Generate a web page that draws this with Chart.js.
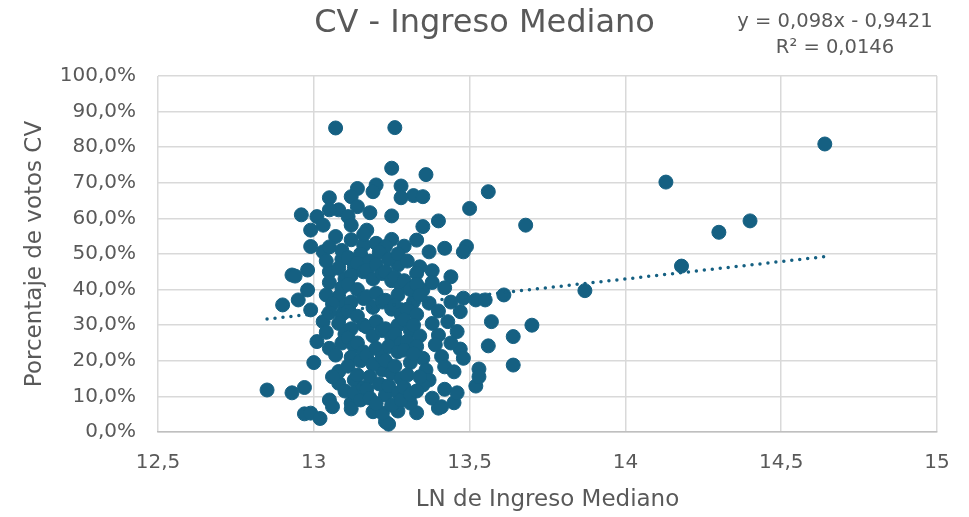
<!DOCTYPE html>
<html lang="es">
<head>
<meta charset="utf-8">
<title>CV - Ingreso Mediano</title>
<script src="https://cdn.jsdelivr.net/npm/chart.js@4.4.1/dist/chart.umd.min.js"></script>
<style>
  html, body { margin: 0; padding: 0; background: #fff; }
  #wrap { width: 969px; height: 517px; }
</style>
</head>
<body>
<div id="wrap"><canvas id="cvChart" width="969" height="517"></canvas></div>
<script>
  // LN del ingreso mediano (eje X) y porcentaje de votos CV (eje Y)
  const lnIngreso = [
    13.07, 13.26, 14.64, 14.13, 14.40, 14.30, 14.18, 13.87, 13.61, 13.70,
    13.64, 13.56, 13.57, 13.64, 13.53, 13.52, 13.53, 13.45, 13.40, 13.33,
    13.27, 13.24, 13.25, 13.36, 13.56, 13.50, 13.68, 13.28, 13.32, 13.35,
    13.28, 13.25, 13.40, 13.35, 13.25, 13.29, 13.33, 13.37, 13.42, 13.49,
    13.48, 13.27, 13.34, 13.38, 13.44, 13.33, 13.35, 13.48, 13.52, 13.55,
    13.32, 13.37, 13.47, 13.38, 13.40, 13.46, 13.47, 13.48, 13.35, 13.41,
    13.42, 13.45, 13.36, 13.37, 13.35, 13.38, 13.41, 13.31, 13.23, 13.20,
    13.19, 13.14, 13.12, 13.05, 13.14, 13.08, 13.05, 13.18, 12.96, 13.01,
    13.11, 13.03, 12.99, 13.12, 13.17, 13.07, 13.16, 13.20, 13.23, 12.99,
    13.03, 12.93, 12.98, 13.05, 12.90, 12.85, 12.93, 12.97, 12.97, 12.99,
    13.02, 13.05, 13.06, 13.00, 13.01, 13.05, 13.07, 13.08, 13.12, 13.13,
    13.22, 13.23, 13.19, 13.22, 12.94, 12.98, 12.95, 12.99, 13.03,
    13.09, 13.08, 13.10, 13.09, 13.08, 13.10, 13.09, 13.08, 13.10, 13.09, 13.08, 13.10, 13.09,
    13.12, 13.11, 13.13, 13.12, 13.11, 13.12, 13.11, 13.12, 13.11, 13.13, 13.12, 13.11, 13.13, 13.12,
    13.15, 13.14, 13.16, 13.14, 13.16, 13.14, 13.16, 13.14, 13.16, 13.15, 13.14, 13.16, 13.15, 13.16,
    13.18, 13.17, 13.19, 13.17, 13.19, 13.17, 13.19, 13.17, 13.19, 13.18, 13.17, 13.18,
    13.21, 13.20, 13.22, 13.20, 13.22, 13.20, 13.22, 13.20, 13.22, 13.21, 13.20,
    13.24, 13.23, 13.25, 13.23, 13.25, 13.23, 13.25, 13.24, 13.23, 13.25, 13.24, 13.25,
    13.27, 13.26, 13.28, 13.27, 13.26, 13.28, 13.27, 13.26, 13.28, 13.27, 13.26, 13.28, 13.27, 13.28,
    13.30, 13.29, 13.31, 13.30, 13.29, 13.31, 13.30, 13.29, 13.31, 13.30, 13.29, 13.31,
    13.33, 13.34, 13.33, 13.32, 13.34, 13.33, 13.32, 13.34, 13.33,
    13.04, 13.05, 13.04, 13.06, 13.05, 13.04, 13.06, 13.05,
    13.38, 13.42, 13.40, 13.44, 13.43, 13.39, 13.44, 13.42, 13.46
  ];
  const votosCV = [
    85.4, 85.5, 80.9, 70.2, 59.3, 56.1, 46.6, 39.7, 38.5, 30.0,
    26.8, 24.2, 31.0, 18.8, 17.7, 12.9, 15.5, 8.2, 6.7, 5.4,
    5.9, 2.2, 74.1, 72.3, 67.5, 62.8, 58.1, 69.1, 66.4, 66.1,
    65.8, 60.7, 59.3, 57.7, 54.1, 52.2, 53.9, 50.6, 51.6, 52.1,
    50.6, 46.9, 46.4, 45.3, 43.6, 44.6, 39.9, 37.6, 37.1, 37.1,
    36.6, 36.2, 33.8, 30.5, 27.2, 28.2, 23.3, 20.7, 20.7, 21.2,
    18.3, 16.9, 17.4, 14.6, 13.2, 9.5, 7.1, 8.1, 2.9, 69.4,
    67.5, 68.4, 66.1, 65.8, 63.3, 62.4, 62.4, 61.6, 61.0, 60.5,
    60.5, 58.1, 56.7, 58.1, 56.7, 54.9, 52.5, 53.0, 52.1, 52.1,
    50.6, 44.1, 45.5, 45.0, 35.7, 11.8, 11.0, 12.5, 5.1, 5.3,
    3.8, 9.0, 7.1, 19.5, 25.4, 23.5, 21.6, 13.7, 8.1, 14.6,
    17.4, 10.4, 5.7, 5.3, 43.8, 39.9, 37.1, 34.3, 31.0,
    48.5, 46.0, 43.0, 40.5, 38.0, 35.5, 33.0, 30.5, 27.5, 25.0, 17.0, 11.5, 51.0,
    54.0, 49.0, 46.5, 44.0, 41.5, 36.5, 34.0, 29.0, 26.5, 24.0, 21.0, 18.5, 11.0, 6.5,
    50.0, 47.5, 45.0, 40.0, 37.5, 32.5, 30.0, 25.0, 22.5, 20.0, 16.0, 12.5, 9.0, 55.5,
    48.0, 45.5, 43.0, 38.0, 35.0, 29.5, 27.0, 21.5, 19.0, 15.5, 12.0, 9.5,
    50.5, 47.0, 44.5, 39.0, 36.5, 31.0, 28.5, 23.5, 21.0, 13.5, 8.0,
    48.5, 45.0, 42.5, 37.0, 34.5, 29.0, 26.5, 24.0, 20.0, 16.5, 13.0, 7.5,
    50.0, 43.5, 41.0, 38.5, 35.5, 33.0, 30.0, 27.5, 25.0, 22.5, 18.5, 15.0, 11.0, 9.0,
    48.0, 42.5, 40.0, 34.5, 31.5, 28.5, 25.5, 23.0, 19.5, 16.0, 12.5, 10.5,
    41.5, 38.5, 33.0, 30.0, 27.0, 24.0, 22.0, 15.5, 11.5,
    48.0, 42.0, 38.5, 36.0, 33.5, 28.0, 15.5, 52.0,
    42.0, 40.5, 34.0, 36.5, 31.0, 24.5, 25.0, 12.0, 11.0
  ];

  // Linea de tendencia lineal (Excel): y = 0,098x - 0,9421
  const trendSlope = 0.098;
  const trendIntercept = -0.9421;
  const xTicks = [12.5, 13, 13.5, 14, 14.5, 15];

  const puntos = lnIngreso.map((x, i) => ({ x: x, y: votosCV[i] }));
  const xMin = Math.min(...lnIngreso), xMax = Math.max(...lnIngreso);
  const tendencia = [xMin, xMax].map(x => ({ x: x, y: (trendSlope * x + trendIntercept) * 100 }));

  const azul = '#156082';
  const gris = '#595959';
  const fuente = '"DejaVu Sans", "Liberation Sans", sans-serif';

  // Ecuacion y R2 en la esquina superior derecha
  const ecuacionPlugin = {
    id: 'ecuacion',
    afterDraw(chart) {
      const ctx = chart.ctx;
      ctx.save();
      ctx.fillStyle = gris;
      ctx.font = '19.5px ' + fuente;
      ctx.textAlign = 'center';
      ctx.textBaseline = 'middle';
      ctx.fillText('y = 0,098x - 0,9421', 835, 22);
      ctx.fillText('R² = 0,0146', 835, 48);
      ctx.restore();
    }
  };

  new Chart(document.getElementById('cvChart'), {
    type: 'scatter',
    data: {
      datasets: [
        {
          label: 'Lineal',
          type: 'line',
          data: tendencia,
          order: 0,
          borderColor: azul,
          borderWidth: 3.5,
          borderDash: [0, 8],
          borderCapStyle: 'round',
          pointRadius: 0,
          fill: false
        },
        {
          label: 'CV',
          data: puntos,
          order: 1,
          backgroundColor: azul,
          borderColor: azul,
          borderWidth: 1,
          pointRadius: 7
        }
      ]
    },
    plugins: [ecuacionPlugin],
    options: {
      responsive: false,
      animation: false,
      layout: { padding: 0 },
      plugins: {
        legend: { display: false },
        tooltip: { enabled: false },
        title: {
          display: true,
          text: 'CV - Ingreso Mediano',
          color: gris,
          font: { family: fuente, size: 32, weight: 'normal', lineHeight: 1.2 },
          padding: { top: 4, bottom: 33.6 }
        }
      },
      scales: {
        x: {
          type: 'linear',
          min: 12.5,
          max: 15,
          afterBuildTicks(scale) { scale.ticks = xTicks.map(v => ({ value: v })); },
          afterFit(scale) { scale.height = 85; scale.paddingRight = 32; },
          ticks: {
            color: gris,
            padding: 19,
            font: { family: fuente, size: 20 },
            callback: v => String(v).replace('.', ',')
          },
          grid: { color: '#d9d9d9', lineWidth: 1.5, drawTicks: false },
          border: { color: '#bfbfbf', width: 1.5 },
          title: {
            display: true,
            text: 'LN de Ingreso Mediano',
            color: gris,
            font: { family: fuente, size: 23, lineHeight: 1.2 },
            padding: { top: 0, bottom: 3 }
          }
        },
        y: {
          min: 0,
          max: 100,
          afterFit(scale) { scale.width = 158; },
          ticks: {
            stepSize: 10,
            color: gris,
            padding: 22,
            font: { family: fuente, size: 20 },
            callback: v => v.toFixed(1).replace('.', ',') + '%'
          },
          grid: { color: '#d9d9d9', lineWidth: 1.5, drawTicks: false },
          border: { display: false },
          title: {
            display: true,
            text: 'Porcentaje de votos CV',
            color: gris,
            font: { family: fuente, size: 23, lineHeight: 1.2 },
            padding: { top: 21, bottom: 0 }
          }
        }
      }
    }
  });
</script>
</body>
</html>
